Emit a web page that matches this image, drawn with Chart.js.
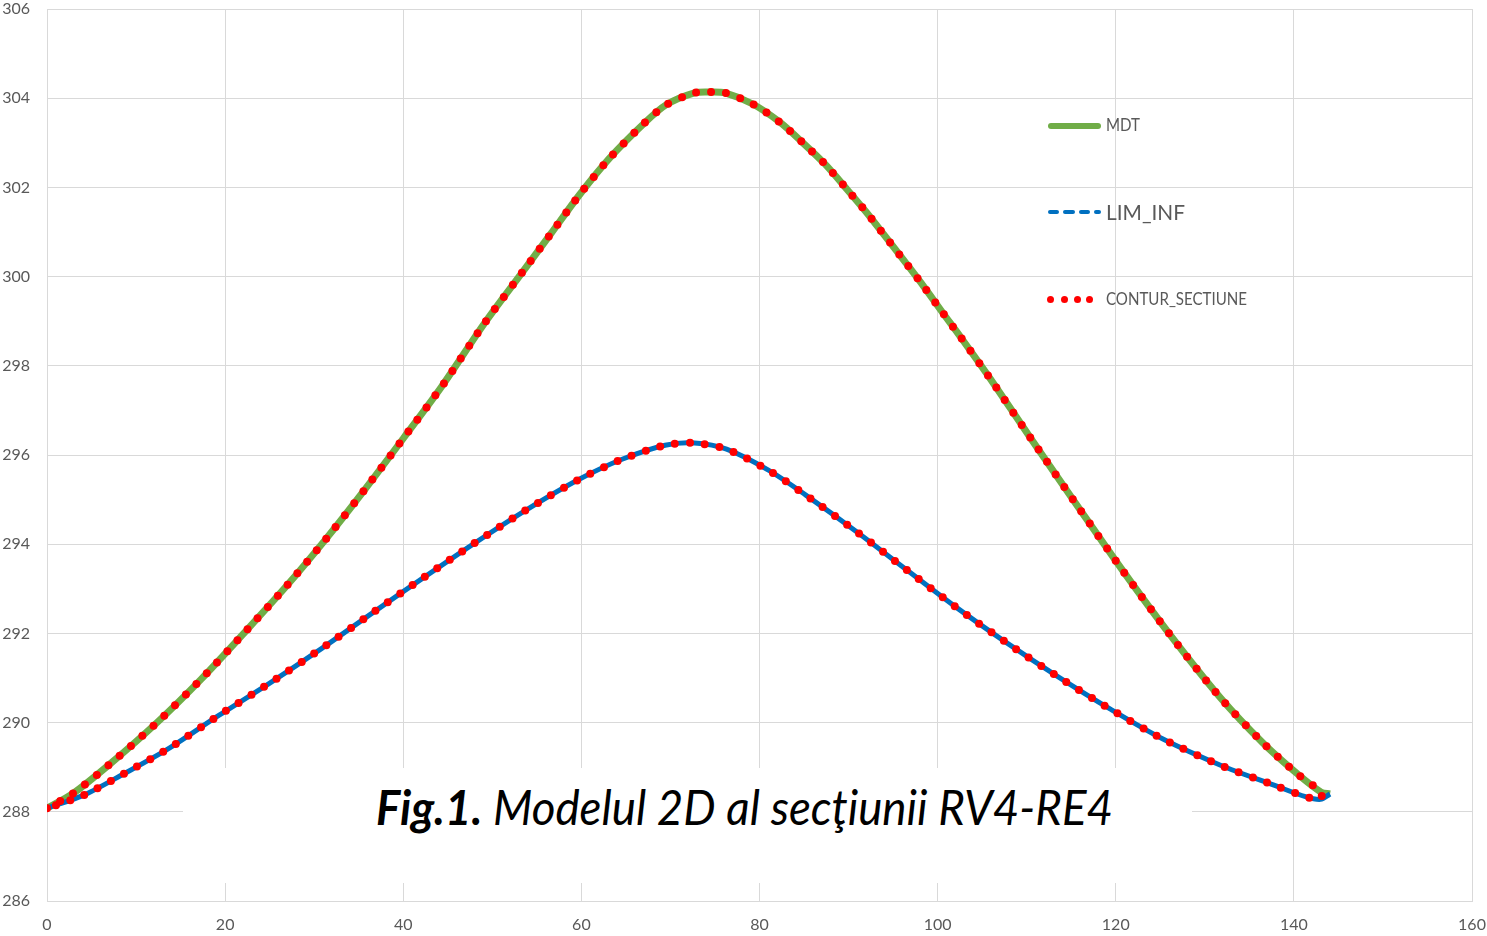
<!DOCTYPE html>
<html>
<head>
<meta charset="utf-8">
<script src="https://cdn.jsdelivr.net/npm/chart.js@4"></script>
<style>
  body { margin: 0; background: #fff; }
  #wrap { position: relative; width: 1487px; height: 936px; }
  .txt { position: absolute; white-space: nowrap; line-height: 1; font-family: Lato, "Open Sans", sans-serif; transform-origin: left center; }
  .leg { color: #595959; }
  .dash { position: absolute; height: 4px; top: 210px; background: #0070C0; border-radius: 2px; }
  .dot { position: absolute; width: 7px; height: 7px; top: 295.5px; background: #FF0000; border-radius: 50%; }
  #capbox { position: absolute; left: 183px; top: 768px; width: 1009px; height: 115px; background: #fff; }
</style>
</head>
<body>
<div id="wrap">
  <canvas id="myChart"></canvas>

  <!-- legend, drawn by hand like the original -->
  <div style="position:absolute;left:1048px;top:123px;width:53px;height:6px;background:#70AD47;border-radius:3px"></div>
  <div class="txt leg" data-w="34" style="left:1106px;top:117.4px;font-size:16.3px">MDT</div>

  <div class="dash" style="left:1048px;width:11px"></div>
  <div class="dash" style="left:1063px;width:12px"></div>
  <div class="dash" style="left:1079px;width:11px"></div>
  <div class="dash" style="left:1094px;width:7px"></div>
  <div class="txt leg" data-w="79" style="left:1106px;top:201.2px;font-size:21.9px">LIM_INF</div>

  <div class="dot" style="left:1046.5px"></div>
  <div class="dot" style="left:1060.5px"></div>
  <div class="dot" style="left:1073.5px"></div>
  <div class="dot" style="left:1085.5px"></div>
  <div class="txt leg" data-w="141" style="left:1106px;top:289.7px;font-size:17.2px">CONTUR_SECTIUNE</div>

  <!-- caption on a white box over the plot -->
  <div id="capbox"></div>
  <div class="txt" data-w="737" style="left:376px;top:782px;font-size:48.4px;color:#000;font-style:italic"><b>Fig.1.</b> Modelul 2D al secţiunii RV4-RE4</div>
</div>

<script>
// MDT (terrain line)
const mdtX = [0, 2.85, 7.0, 12.24, 17.29, 22.04, 26.84, 31.33, 35.7, 40.0, 44.3, 49.18, 53.49, 56.6, 59.77, 63.14, 66.85, 69.5, 72.69, 74.44, 76.13, 79.24, 82.23, 84.81, 87.36, 89.68, 91.93, 94.17, 96.34, 98.47, 100.57, 102.63, 105.7, 110.68, 115.8, 120.85, 126.17, 131.7, 136.5, 140.4, 143.06, 144.06];
const mdtY = [288.08, 288.40, 289.06, 289.98, 290.97, 291.99, 293.05, 294.12, 295.23, 296.37, 297.53, 298.97, 300.13, 300.97, 301.83, 302.65, 303.40, 303.85, 304.12, 304.14, 304.12, 303.87, 303.47, 303.01, 302.52, 301.99, 301.46, 300.89, 300.33, 299.77, 299.19, 298.63, 297.77, 296.31, 294.83, 293.39, 291.95, 290.57, 289.55, 288.85, 288.44, 288.40];

// LIM_INF (lower limit)
const limX = [0, 4.2, 8.7, 13.5, 19.2, 24.97, 30.9, 36.47, 42.2, 47.98, 53.83, 59.7, 64.5, 69.4, 72.7, 76.3, 81.0, 85.2, 90.9, 96.55, 101.98, 107.6, 113.5, 119.4, 125.3, 131.7, 138.0, 141.3, 143.0, 144.06];
const limY = [288.08, 288.38, 288.86, 289.40, 290.15, 290.88, 291.67, 292.45, 293.24, 294.02, 294.77, 295.45, 295.90, 296.22, 296.27, 296.13, 295.66, 295.10, 294.28, 293.42, 292.60, 291.81, 291.03, 290.30, 289.63, 289.05, 288.58, 288.34, 288.28, 288.40];

const xTicks = [0, 20, 40, 60, 80, 100, 120, 140, 160];
const yTicks = [286, 288, 290, 292, 294, 296, 298, 300, 302, 304, 306];

function toPoints(xs, ys) {
  return xs.map((x, i) => ({ x: x, y: ys[i] }));
}

// contour = top line left->right, then lower line back right->left
const mdtPts = toPoints(mdtX, mdtY);
const limPts = toPoints(limX, limY);
const contourPts = mdtPts.slice(0, -1).concat(limPts.slice(0, -1).reverse());

const gridColor = '#D9D9D9';
const tickFont = { family: 'Lato', size: 16, lineHeight: 1 };

new Chart(document.getElementById('myChart'), {
  type: 'scatter',
  data: {
    datasets: [
      {
        label: 'CONTUR_SECTIUNE',
        data: contourPts,
        showLine: true,
        borderColor: '#FF0000',
        borderWidth: 8,
        borderDash: [0, 15],
        borderCapStyle: 'round',
        pointRadius: 0,
        tension: 0.25,
        order: 1
      },
      {
        label: 'LIM_INF',
        data: limPts,
        showLine: true,
        borderColor: '#0070C0',
        borderWidth: 5,
        pointRadius: 0,
        tension: 0.3,
        order: 2
      },
      {
        label: 'MDT',
        data: mdtPts,
        showLine: true,
        borderColor: '#70AD47',
        borderWidth: 7,
        pointRadius: 0,
        tension: 0.3,
        order: 3
      }
    ]
  },
  options: {
    responsive: true,
    maintainAspectRatio: false,
    animation: false,
    layout: { padding: { top: 9, right: 15, bottom: 0, left: 0 } },
    plugins: {
      legend: { display: false },
      tooltip: { enabled: false }
    },
    scales: {
      x: {
        type: 'linear',
        min: 0,
        max: 160,
        afterBuildTicks: (scale) => { scale.ticks = xTicks.map(v => ({ value: v })); },
        afterFit: (scale) => {
          scale.height = 35;
          scale.paddingLeft = 0;
          scale.paddingRight = 0;
        },
        grid: { color: gridColor, drawTicks: false },
        border: { color: gridColor },
        ticks: { color: '#595959', font: tickFont, padding: 16, maxRotation: 0 }
      },
      y: {
        type: 'linear',
        min: 286,
        max: 306,
        afterBuildTicks: (scale) => { scale.ticks = yTicks.map(v => ({ value: v })); },
        afterFit: (scale) => {
          scale.width = 47;
          scale.paddingTop = 0;
          scale.paddingBottom = 0;
        },
        grid: { color: gridColor, drawTicks: false },
        border: { color: gridColor },
        ticks: { color: '#595959', font: tickFont, padding: 17 }
      }
    }
  }
});

// squeeze texts to the widths in the picture
function fitTexts() {
  document.querySelectorAll('[data-w]').forEach(el => {
    el.style.transform = 'none';
    const w = el.getBoundingClientRect().width;
    el.style.transform = 'scaleX(' + (el.dataset.w / w) + ')';
  });
}
fitTexts();
document.fonts.ready.then(fitTexts);
</script>
</body>
</html>
